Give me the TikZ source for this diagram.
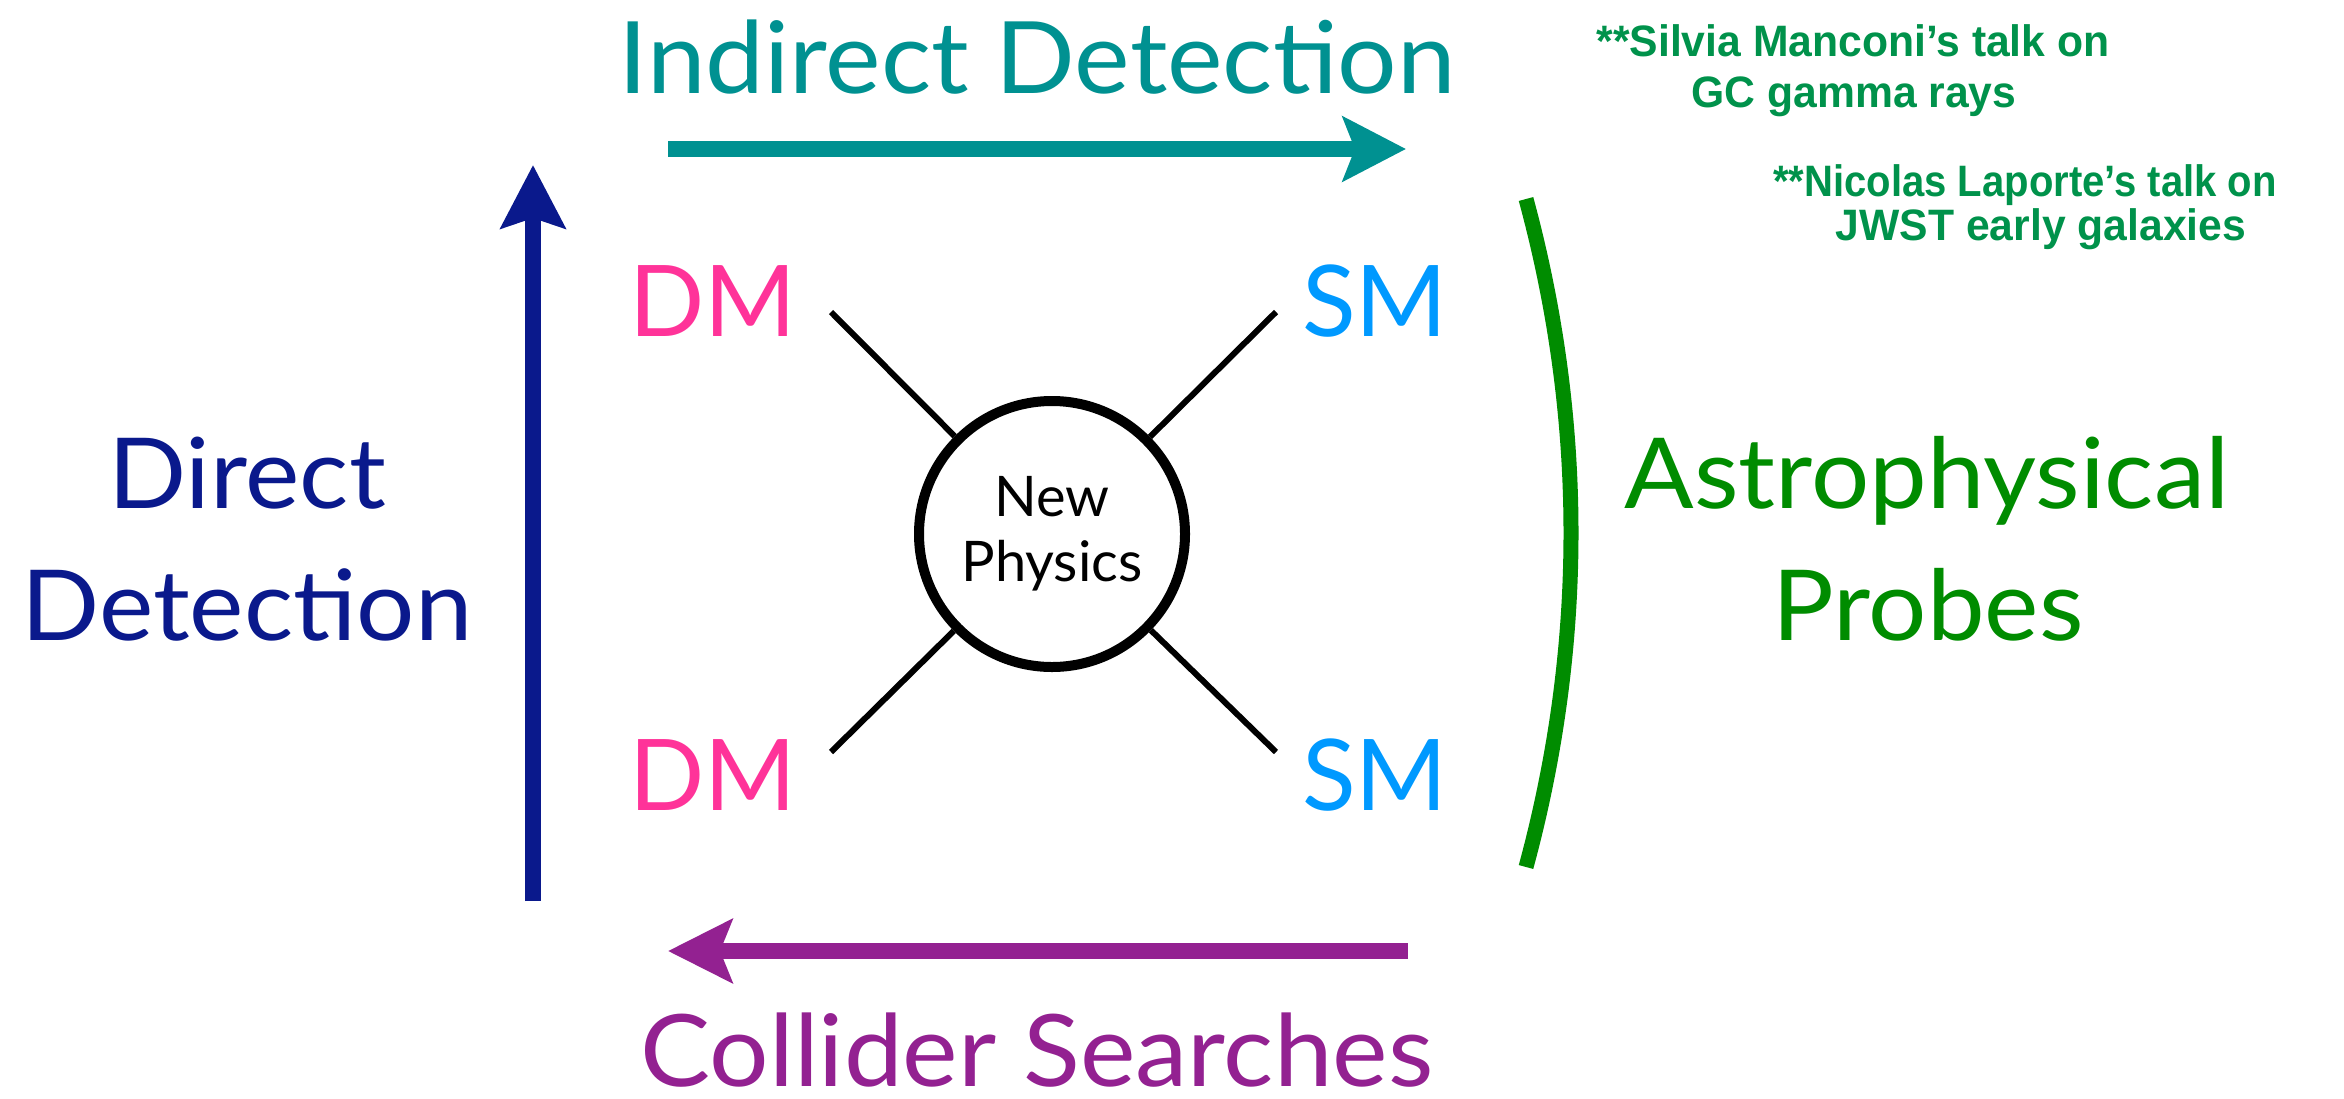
\documentclass[tikz,border=0pt]{standalone}
\usepackage{fontspec}
\setmainfont{Lato}
\newfontfamily\widefont[FakeStretch=1.05]{Lato}
\newfontfamily\notefont[FakeStretch=0.97]{Liberation Sans Bold}
\newfontfamily\notefontb[FakeStretch=0.91]{Liberation Sans Bold}
\usetikzlibrary{arrows.meta}
\definecolor{cteal}{RGB}{0,145,145}
\definecolor{cdblue}{RGB}{10,25,140}
\definecolor{cpink}{RGB}{255,51,153}
\definecolor{csky}{RGB}{0,153,255}
\definecolor{cpurple}{RGB}{147,33,145}
\definecolor{cgreen}{RGB}{0,140,0}
\definecolor{cnote}{RGB}{0,146,75}
\tikzset{
  lbl/.style={anchor=base, inner sep=0pt, font=\widefont\fontsize{100}{100}\selectfont},
  twoline/.style={anchor=base, inner sep=0pt, font=\widefont\fontsize{98}{132}\selectfont},
  particle/.style={anchor=base, inner sep=0pt, font=\fontsize{99}{99}\selectfont},
  note/.style={anchor=base, inner sep=0pt, text=cnote, font=\notefont\fontsize{44}{50}\selectfont},
  leg/.style={line width=6pt, black},
  bigarrow/.style={line width=16pt},
}
\begin{document}
\begin{tikzpicture}[x=1pt,y=-1pt]
\useasboundingbox (0,0) rectangle (2344,1098);
% central blob
\node[circle, draw=black, line width=10pt, minimum size=266pt, inner sep=0pt, align=center,
      font=\fontsize{56}{65}\selectfont] (np) at (1052,534) {New\\Physics};
% legs
\coordinate (tl) at (831,312);
\coordinate (tr) at (1276,312);
\coordinate (bl) at (831,752);
\coordinate (br) at (1276,752);
\draw[leg] (tl) -- (np);
\draw[leg] (tr) -- (np);
\draw[leg] (bl) -- (np);
\draw[leg] (br) -- (np);
% particle labels
\node[particle, text=cpink] (dm1) at (713,336) {DM};
\node[particle, text=cpink] (dm2) at (713,810) {DM};
\node[particle, text=csky] (sm1) at (1375,336) {SM};
\node[particle, text=csky] (sm2) at (1375,810) {SM};
% indirect
\coordinate (ia) at (668,149);
\coordinate (ib) at (1406,149);
\draw[bigarrow, cteal, -{Stealth[length=63pt,width=64pt,inset=12pt]}] (ia) -- (ib);
\node[lbl, text=cteal] (ind) at (1037,93) {Indirect Detection};
% direct
\coordinate (da) at (533,901);
\coordinate (db) at (533,165);
\draw[bigarrow, cdblue, -{Stealth[length=63pt,width=64pt,inset=10pt]}] (da) -- (db);
\node[twoline, text=cdblue] (dir1) at (247,508) {Direct};
\node[twoline, text=cdblue] (dir2) at (247,640) {Detection};
% collider
\coordinate (ca) at (1408,951);
\coordinate (cb) at (668,951);
\draw[bigarrow, cpurple, -{Stealth[length=64pt,width=63pt,inset=12pt]}] (ca) -- (cb);
\node[lbl, text=cpurple, text depth=0pt, font=\widefont\fontsize{100}{100}\selectfont] (col) at (1037,1086) {Collider Searches};
% astrophysical
\coordinate (aa) at (1526,199);
\coordinate (ab) at (1526,867);
\draw[line width=15pt, cgreen] (aa) .. controls (1586,420) and (1586,646) .. (ab);
\node[twoline, text=cgreen] (ast1) at (1927,508) {Astrophysical};
\node[twoline, text=cgreen] (ast2) at (1928,640) {Probes};
% notes
\node[note] (n1) at (1853,56) {**Silvia Manconi’s talk on};
\node[note] (n2) at (1854,107) {GC gamma rays};
\node[note, font=\notefontb\fontsize{44}{50}\selectfont] (n3) at (2025,196) {**Nicolas Laporte’s talk on};
\node[note] (n4) at (2041,240) {JWST early galaxies};
\end{tikzpicture}
\end{document}
